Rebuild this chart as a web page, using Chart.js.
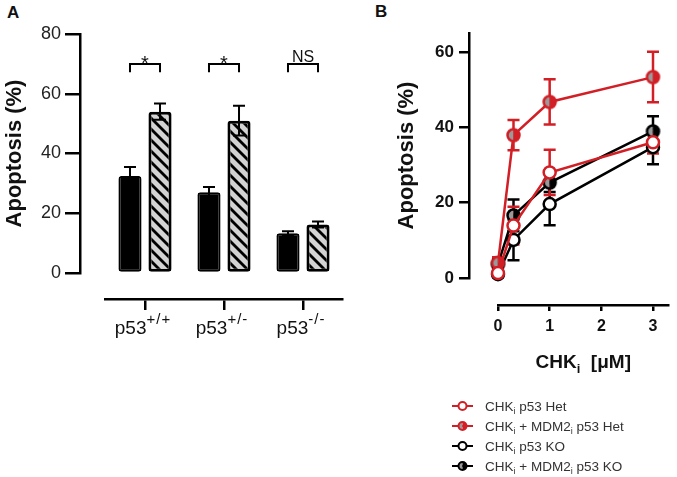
<!DOCTYPE html>
<html>
<head>
<meta charset="utf-8">
<title>Apoptosis</title>
<script src="https://cdn.jsdelivr.net/npm/chart.js@4.4.0/dist/chart.umd.min.js"></script>
<style>
  html, body { margin: 0; padding: 0; background: #fff; }
  body { width: 677px; height: 477px; position: relative; overflow: hidden; font-family: 'Liberation Sans', Arial, sans-serif; }
  .panel-letter { position: absolute; font-weight: bold; font-size: 17px; line-height: 17px; color: #111; }
  #chart-a { position: absolute; left: 0; top: 0; }
  #chart-b { position: absolute; left: 370px; top: 0; }
</style>
</head>
<body>
<div class="panel-letter" style="left:7px; top:4px;">A</div>
<div class="panel-letter" style="left:375px; top:3px;">B</div>
<canvas id="chart-a" width="345" height="350"></canvas>
<canvas id="chart-b" width="307" height="477"></canvas>
<script>
'use strict';

// ********** DATA - PANEL A **********
let genotypes = ['p53+/+', 'p53+/-', 'p53-/-'];
let solidValues = [32.5, 27, 13.3];
let solidErrors = [3, 1.8, 0.7];
let hatchValues = [54, 51, 16.2];
let hatchErrors = [2.7, 5, 1];
let sigLabels = ['*', '*', 'NS'];
let sigLevel = 70;
let yMaxA = 80;
let yStepA = 20;

// ********** DATA - PANEL B **********
let doses = [0, 0.3, 1, 3];
let seriesNames = ['CHK_i p53 Het', 'CHK_i + MDM2_i p53 Het', 'CHK_i p53 KO', 'CHK_i + MDM2_i p53 KO'];
let hetValues = [1.3, 13.9, 28, 36];
let hetErrors = [1, 5, 6, 3];
let hetComboValues = [4, 37.9, 46.7, 53.3];
let hetComboErrors = [1.5, 4, 6, 6.7];
let koValues = [1, 10.1, 19.6, 34.7];
let koErrors = [0.8, 5.4, 5.6, 4.5];
let koComboValues = [3.6, 16.6, 25.3, 38.9];
let koComboErrors = [1.5, 4.2, 2.5, 4];
let yMaxB = 65;
let yStepB = 20;
let xMaxB = 3.3;

// ********** STYLE **********
const FONT = "'Liberation Sans', Arial, sans-serif";
const RED = '#d21f26';
const BLACK = '#000';
const HALF_GRAY = '#9a9a9a';

Chart.defaults.font.family = FONT;
Chart.defaults.color = '#111';

// ********** HELPERS **********
function makeHatch() {
  let size = 11;
  let c = document.createElement('canvas');
  c.width = size;
  c.height = size;
  let g = c.getContext('2d');
  g.fillStyle = '#d3d3d3';
  g.fillRect(0, 0, size, size);
  g.strokeStyle = '#000';
  g.lineWidth = 2.8;
  for (let k = -size; k <= size; k += size) {
    g.beginPath();
    g.moveTo(k - 1, -1);
    g.lineTo(k + size + 1, size + 1);
    g.stroke();
  }
  return g.createPattern(c, 'repeat');
}

function drawHalfDot(g, cx, cy, r, color, lw) {
  g.beginPath();
  g.arc(cx, cy, r, Math.PI / 2, Math.PI * 1.5);
  g.closePath();
  g.fillStyle = HALF_GRAY;
  g.fill();
  g.beginPath();
  g.arc(cx, cy, r, -Math.PI / 2, Math.PI / 2);
  g.closePath();
  g.fillStyle = color;
  g.fill();
  g.beginPath();
  g.arc(cx, cy, r, 0, Math.PI * 2);
  g.lineWidth = lw;
  g.strokeStyle = color;
  g.stroke();
}

function makeHalfDot(color) {
  let c = document.createElement('canvas');
  c.width = 17;
  c.height = 17;
  drawHalfDot(c.getContext('2d'), 8.5, 8.5, 6, color, 2.5);
  return c;
}

// draw text with "_x" parts lowered as subscripts
function drawSubText(g, text, x, y, size, subSize, bold, align) {
  let weight = bold ? 'bold ' : '';
  let parts = text.split(/_(\w)/);
  let widths = [];
  let total = 0;
  for (let i = 0; i < parts.length; i++) {
    g.font = weight + (i % 2 ? subSize : size) + 'px ' + FONT;
    widths.push(g.measureText(parts[i]).width);
    total += widths[i];
  }
  let cx = align === 'center' ? x - total / 2 : x;
  g.textAlign = 'left';
  g.textBaseline = 'alphabetic';
  for (let i = 0; i < parts.length; i++) {
    g.font = weight + (i % 2 ? subSize : size) + 'px ' + FONT;
    g.fillText(parts[i], cx, i % 2 ? y + size * 0.25 : y);
    cx += widths[i];
  }
}

function gapScale(pos, size) {
  return {
    type: 'linear',
    position: pos,
    weight: 0,
    display: true,
    ticks: { display: false },
    grid: { display: false },
    border: { display: false },
    afterFit: function (s) {
      if (pos === 'left') {
        s.width = size;
      } else {
        s.height = size;
      }
    }
  };
}

// ********** PANEL A PLUGIN **********
let panelAPlugin = {
  id: 'panelA',
  afterDatasetsDraw: function (chart) {
    let g = chart.ctx;
    let y = chart.scales.y;
    let sets = [[solidValues, solidErrors], [hatchValues, hatchErrors]];
    g.save();
    g.strokeStyle = '#000';
    g.lineWidth = 2;
    for (let d = 0; d < sets.length; d++) {
      let meta = chart.getDatasetMeta(d);
      for (let i = 0; i < meta.data.length; i++) {
        let x = meta.data[i].x;
        let top = y.getPixelForValue(sets[d][0][i] + sets[d][1][i]);
        let bot = y.getPixelForValue(sets[d][0][i] - sets[d][1][i]);
        g.beginPath();
        g.moveTo(x, top);
        g.lineTo(x, bot);
        g.moveTo(x - 6, top);
        g.lineTo(x + 6, top);
        g.moveTo(x - 6, bot);
        g.lineTo(x + 6, bot);
        g.stroke();
      }
    }
    g.restore();
  },
  afterDraw: function (chart) {
    let g = chart.ctx;
    let x = chart.scales.x;
    let y = chart.scales.y;
    let m0 = chart.getDatasetMeta(0);
    let m1 = chart.getDatasetMeta(1);
    g.save();
    // significance brackets
    g.strokeStyle = '#000';
    g.lineWidth = 2;
    g.fillStyle = '#111';
    g.textAlign = 'center';
    g.textBaseline = 'alphabetic';
    for (let i = 0; i < sigLabels.length; i++) {
      let x1 = m0.data[i].x;
      let x2 = m1.data[i].x;
      let top = y.getPixelForValue(sigLevel);
      let leg = y.getPixelForValue(sigLevel - 2.8);
      g.beginPath();
      g.moveTo(x1, leg);
      g.lineTo(x1, top);
      g.lineTo(x2, top);
      g.lineTo(x2, leg);
      g.stroke();
      if (sigLabels[i] === '*') {
        g.font = '20px ' + FONT;
        g.fillText(sigLabels[i], (x1 + x2) / 2, top + 6);
      } else {
        g.font = '16px ' + FONT;
        g.fillText(sigLabels[i], (x1 + x2) / 2, top - 2);
      }
    }
    // genotype labels with superscripts
    for (let i = 0; i < genotypes.length; i++) {
      let parts = genotypes[i].match(/^(p53)(.*)$/);
      let cx = x.getPixelForValue(i);
      g.font = '19px ' + FONT;
      let w1 = g.measureText(parts[1]).width;
      g.font = '15px ' + FONT;
      g.letterSpacing = '1px';
      let w2 = g.measureText(parts[2]).width;
      let sx = cx - (w1 + w2) / 2 - 2;
      g.textAlign = 'left';
      g.letterSpacing = '0px';
      g.font = '19px ' + FONT;
      g.fillText(parts[1], sx, 334);
      g.font = '15px ' + FONT;
      g.letterSpacing = '1px';
      g.fillText(parts[2], sx + w1, 324);
      g.letterSpacing = '0px';
    }
    g.restore();
  }
};

// ********** PANEL B PLUGIN **********
let errorSetsB = [hetErrors, hetComboErrors, koErrors, koComboErrors];
let colorsB = [RED, RED, BLACK, BLACK];
let halfB = [false, true, false, true];

let panelBPlugin = {
  id: 'panelB',
  beforeDatasetsDraw: function (chart) {
    let g = chart.ctx;
    let y = chart.scales.y;
    g.save();
    g.lineWidth = 2.5;
    for (let d = chart.data.datasets.length - 1; d >= 0; d--) {
      let meta = chart.getDatasetMeta(d);
      let vals = chart.data.datasets[d].data;
      g.strokeStyle = colorsB[d];
      for (let i = 0; i < meta.data.length; i++) {
        let x = meta.data[i].x;
        let top = y.getPixelForValue(vals[i].y + errorSetsB[d][i]);
        let bot = y.getPixelForValue(vals[i].y - errorSetsB[d][i]);
        g.beginPath();
        g.moveTo(x, top);
        g.lineTo(x, bot);
        g.moveTo(x - 6, top);
        g.lineTo(x + 6, top);
        g.moveTo(x - 6, bot);
        g.lineTo(x + 6, bot);
        g.stroke();
      }
    }
    g.restore();
  },
  afterDraw: function (chart) {
    let g = chart.ctx;
    let area = chart.chartArea;
    g.save();
    g.fillStyle = '#111';
    drawSubText(g, 'CHK_i  [\u03bcM]', (area.left + area.right) / 2, 368, 19, 13, true, 'center');
    // legend
    for (let i = 0; i < seriesNames.length; i++) {
      let ly = 406 + i * 20;
      g.strokeStyle = colorsB[i];
      g.lineWidth = 2;
      g.beginPath();
      g.moveTo(82, ly);
      g.lineTo(103, ly);
      g.stroke();
      if (halfB[i]) {
        drawHalfDot(g, 92.5, ly, 4, colorsB[i], 2);
      } else {
        g.beginPath();
        g.arc(92.5, ly, 4, 0, Math.PI * 2);
        g.fillStyle = '#fff';
        g.fill();
        g.stroke();
      }
      g.fillStyle = '#333';
      drawSubText(g, seriesNames[i], 115, ly + 5, 13.5, 9, false, 'left');
    }
    g.restore();
  }
};

// ********** PANEL A CHART **********
let hatch = makeHatch();

new Chart(document.getElementById('chart-a'), {
  type: 'bar',
  data: {
    labels: genotypes,
    datasets: [{
      label: 'solid',
      data: solidValues,
      backgroundColor: '#000',
      borderColor: '#000',
      borderWidth: 2,
      borderRadius: 3,
      borderSkipped: false
    },
    {
      label: 'hatched',
      data: hatchValues,
      backgroundColor: hatch,
      borderColor: '#000',
      borderWidth: 3,
      borderRadius: 3,
      borderSkipped: false
    }]
  },
  options: {
    responsive: false,
    animation: false,
    categoryPercentage: 0.76,
    barPercentage: 0.77,
    layout: { padding: { top: 34, right: 2.5, left: 0, bottom: 0 } },
    plugins: { legend: { display: false }, tooltip: { enabled: false } },
    scales: {
      x: {
        position: 'bottom',
        weight: 1,
        offset: true,
        ticks: { display: false },
        grid: { offset: false, drawOnChartArea: false, tickLength: 11, color: '#000', lineWidth: 2.5 },
        border: { display: true, color: '#000', width: 2.5 },
        afterFit: function (s) { s.height = 51; }
      },
      xGap: gapScale('bottom', 26),
      y: {
        position: 'left',
        weight: 1,
        min: 0,
        max: yMaxA,
        ticks: { stepSize: yStepA, padding: 4, color: '#222', font: { size: 18 } },
        grid: { drawOnChartArea: false, tickLength: 15, color: '#000', lineWidth: 2.5 },
        border: { display: true, color: '#000', width: 2.5 },
        title: { display: true, text: 'Apoptosis (%)', color: '#111', font: { size: 22, weight: 'bold' }, padding: { top: 2, bottom: 0 } },
        afterFit: function (s) { s.width = 80; }
      },
      yGap: gapScale('left', 25.5)
    }
  },
  plugins: [panelAPlugin]
});

// ********** PANEL B CHART **********
function toPoints(values) {
  return doses.map(function (d, i) { return { x: d, y: values[i] }; });
}

let valueSetsB = [hetValues, hetComboValues, koValues, koComboValues];
let datasetsB = [];
for (let i = 0; i < seriesNames.length; i++) {
  datasetsB.push({
    label: seriesNames[i].replace(/_/g, ''),
    data: toPoints(valueSetsB[i]),
    borderColor: colorsB[i],
    borderWidth: 2.5,
    pointRadius: 6,
    pointBorderWidth: 2.5,
    pointBorderColor: colorsB[i],
    pointBackgroundColor: '#fff',
    pointStyle: halfB[i] ? makeHalfDot(colorsB[i]) : 'circle',
    tension: 0,
    clip: false
  });
}

new Chart(document.getElementById('chart-b'), {
  type: 'line',
  data: { datasets: datasetsB },
  options: {
    responsive: false,
    animation: false,
    layout: { padding: { top: 33, right: 2, left: 0, bottom: 0 } },
    plugins: { legend: { display: false }, tooltip: { enabled: false } },
    scales: {
      x: {
        type: 'linear',
        position: 'bottom',
        weight: 1,
        min: 0,
        max: xMaxB,
        ticks: { stepSize: 1, includeBounds: false, padding: 6, color: '#111', font: { size: 16, weight: 'bold' } },
        grid: { drawOnChartArea: false, tickLength: 6, color: '#000', lineWidth: 2.5 },
        border: { display: true, color: '#000', width: 2.5 },
        afterFit: function (s) { s.height = 172; }
      },
      xGap: gapScale('bottom', 27),
      y: {
        position: 'left',
        weight: 1,
        min: 0,
        max: yMaxB,
        ticks: { stepSize: yStepB, includeBounds: false, padding: 5, color: '#111', font: { size: 17, weight: 'bold' } },
        grid: { drawOnChartArea: false, tickLength: 10, color: '#000', lineWidth: 2.5 },
        border: { display: true, color: '#000', width: 2.5 },
        title: { display: true, text: 'Apoptosis (%)', color: '#111', font: { size: 22, weight: 'bold' }, padding: { top: 24, bottom: 0 } },
        afterFit: function (s) { s.width = 99; }
      },
      yGap: gapScale('left', 29)
    }
  },
  plugins: [panelBPlugin]
});
</script>
</body>
</html>
